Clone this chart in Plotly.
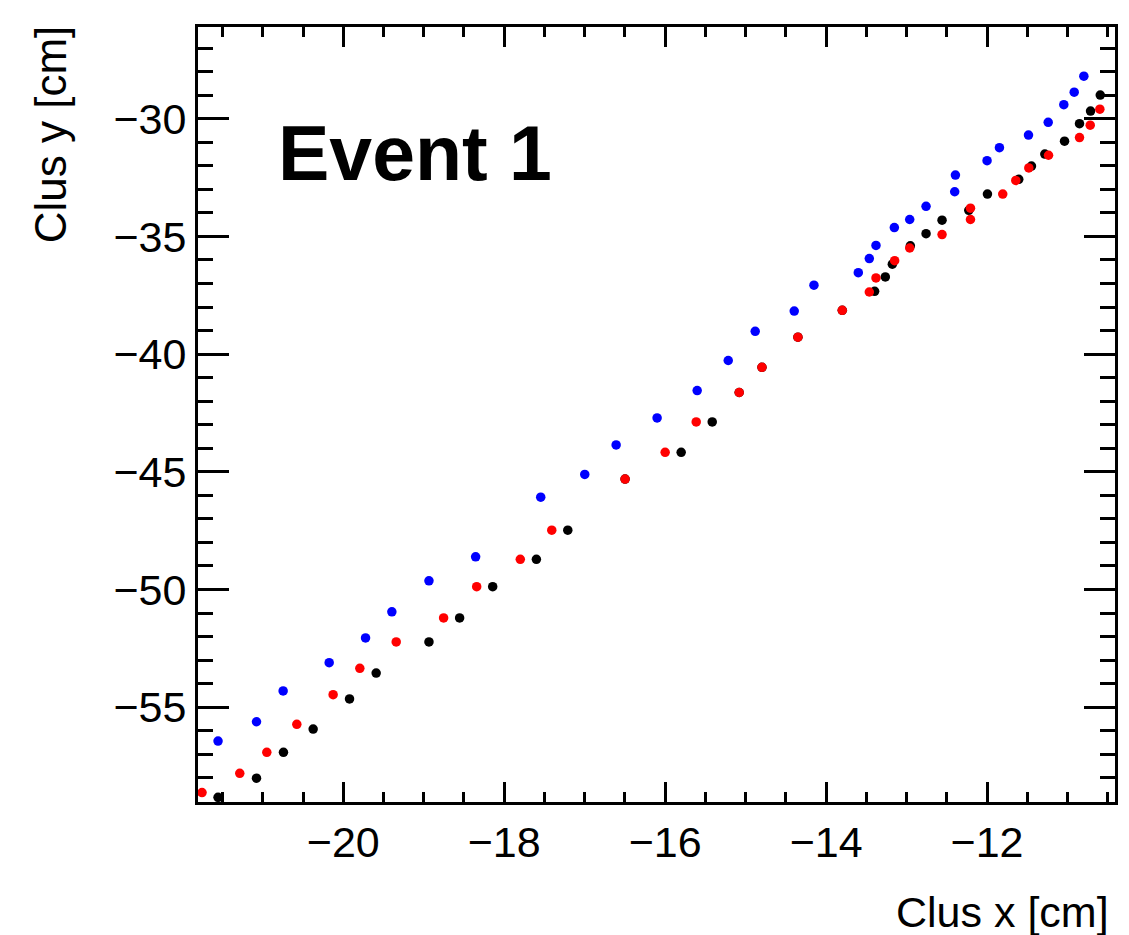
import plotly.graph_objects as go

# ---- data ----
blue_x = [-21.556, -21.078, -20.747, -20.175, -19.723, -19.396, -18.935, -18.355, -17.546, -16.999,
          -16.609, -16.10, -15.602, -15.216, -14.881, -14.396, -14.151, -13.60, -13.463, -13.38,
          -13.152, -12.961, -12.758, -12.402, -12.393, -12.0, -11.846, -11.485, -11.24, -11.046,
          -10.917, -10.797]
blue_y = [-56.44, -55.62, -54.31, -53.11, -52.06, -50.95, -49.63, -48.61, -46.08, -45.11,
          -43.86, -42.71, -41.55, -40.27, -39.03, -38.17, -37.07, -36.54, -35.94, -35.38,
          -34.62, -34.28, -33.72, -33.10, -32.39, -31.78, -31.23, -30.69, -30.15, -29.40,
          -28.87, -28.19]

red_x = [-21.755, -21.286, -20.950, -20.577, -20.126, -19.794, -19.342, -18.753, -18.342, -17.80,
         -17.409, -16.498, -16.0, -15.614, -15.080, -14.797, -14.350, -13.799, -13.463, -13.38,
         -13.148, -12.961, -12.559, -12.206, -12.206, -11.805, -11.643, -11.481, -11.236, -10.851,
         -10.718, -10.598]
red_y = [-58.63, -57.81, -56.92, -55.73, -54.47, -53.35, -52.23, -51.21, -49.88, -48.72,
         -47.48, -45.31, -44.17, -42.88, -41.63, -40.56, -39.28, -38.14, -37.36, -36.76,
         -36.03, -35.49, -34.92, -34.28, -33.80, -33.20, -32.62, -32.09, -31.55, -30.80,
         -30.27, -29.59]

black_x = [-21.556, -21.078, -20.743, -20.374, -19.922, -19.591, -18.935, -18.554, -18.143, -17.60,
           -17.21, -16.498, -15.801, -15.415, -15.08, -14.797, -14.35, -13.799, -13.397, -13.264,
           -13.177, -12.953, -12.758, -12.559, -12.227, -11.995, -11.606, -11.448, -11.282, -11.037,
           -10.851, -10.714, -10.593]
black_y = [-58.83, -58.02, -56.92, -55.93, -54.65, -53.55, -52.23, -51.21, -49.88, -48.72,
           -47.48, -45.31, -44.17, -42.88, -41.63, -40.56, -39.28, -38.14, -37.33, -36.72,
           -36.18, -35.40, -34.88, -34.31, -33.89, -33.20, -32.57, -32.01, -31.50, -30.95,
           -30.21, -29.67, -28.99]

x_range = [-21.805, -10.41]
y_range = [-59.03, -26.10]

FONT = "Liberation Sans, Arial, Helvetica, sans-serif"

fig = go.Figure()
for xs, ys, col in [(blue_x, blue_y, "#0000ff"), (black_x, black_y, "#000000"), (red_x, red_y, "#ff0000")]:
    fig.add_trace(go.Scatter(x=xs, y=ys, mode="markers",
                             marker=dict(color=col, size=9.5, line=dict(width=0)),
                             showlegend=False))

axis_common = dict(showline=True, linewidth=3, linecolor="black", mirror="allticks",
                   ticks="inside", tickwidth=3, tickcolor="black", showgrid=False,
                   zeroline=False, tickfont=dict(family=FONT, size=43, color="black"))

fig.update_xaxes(range=x_range, dtick=2, tick0=0, ticklen=20,
                 minor=dict(dtick=0.5, tick0=0, ticklen=10, ticks="inside", tickwidth=3,
                            tickcolor="black", showgrid=False),
                 **axis_common)
fig.update_yaxes(range=y_range, dtick=5, tick0=0, ticklen=31,
                 minor=dict(dtick=1, tick0=0, ticklen=15, ticks="inside", tickwidth=3,
                            tickcolor="black", showgrid=False),
                 **axis_common)

fig.add_annotation(text="<b>Event 1</b>", xref="paper", yref="paper", x=0.085, y=0.838,
                   xanchor="left", yanchor="middle", showarrow=False,
                   font=dict(family=FONT, size=77, color="black"))
fig.add_annotation(text="Clus x [cm]", xref="paper", yref="paper", x=1.0, y=-0.142,
                   xanchor="right", yanchor="middle", showarrow=False, xshift=-4,
                   font=dict(family=FONT, size=43, color="black"))
fig.add_annotation(text="Clus y [cm]", xref="paper", yref="paper", x=-0.16, y=0.862,
                   xanchor="center", yanchor="middle", showarrow=False, textangle=-90,
                   font=dict(family=FONT, size=44, color="black"))

fig.update_layout(width=1129, height=935, margin=dict(l=198, r=14, t=27, b=133),
                  paper_bgcolor="white", plot_bgcolor="white")

fig.write_html("out.html")
